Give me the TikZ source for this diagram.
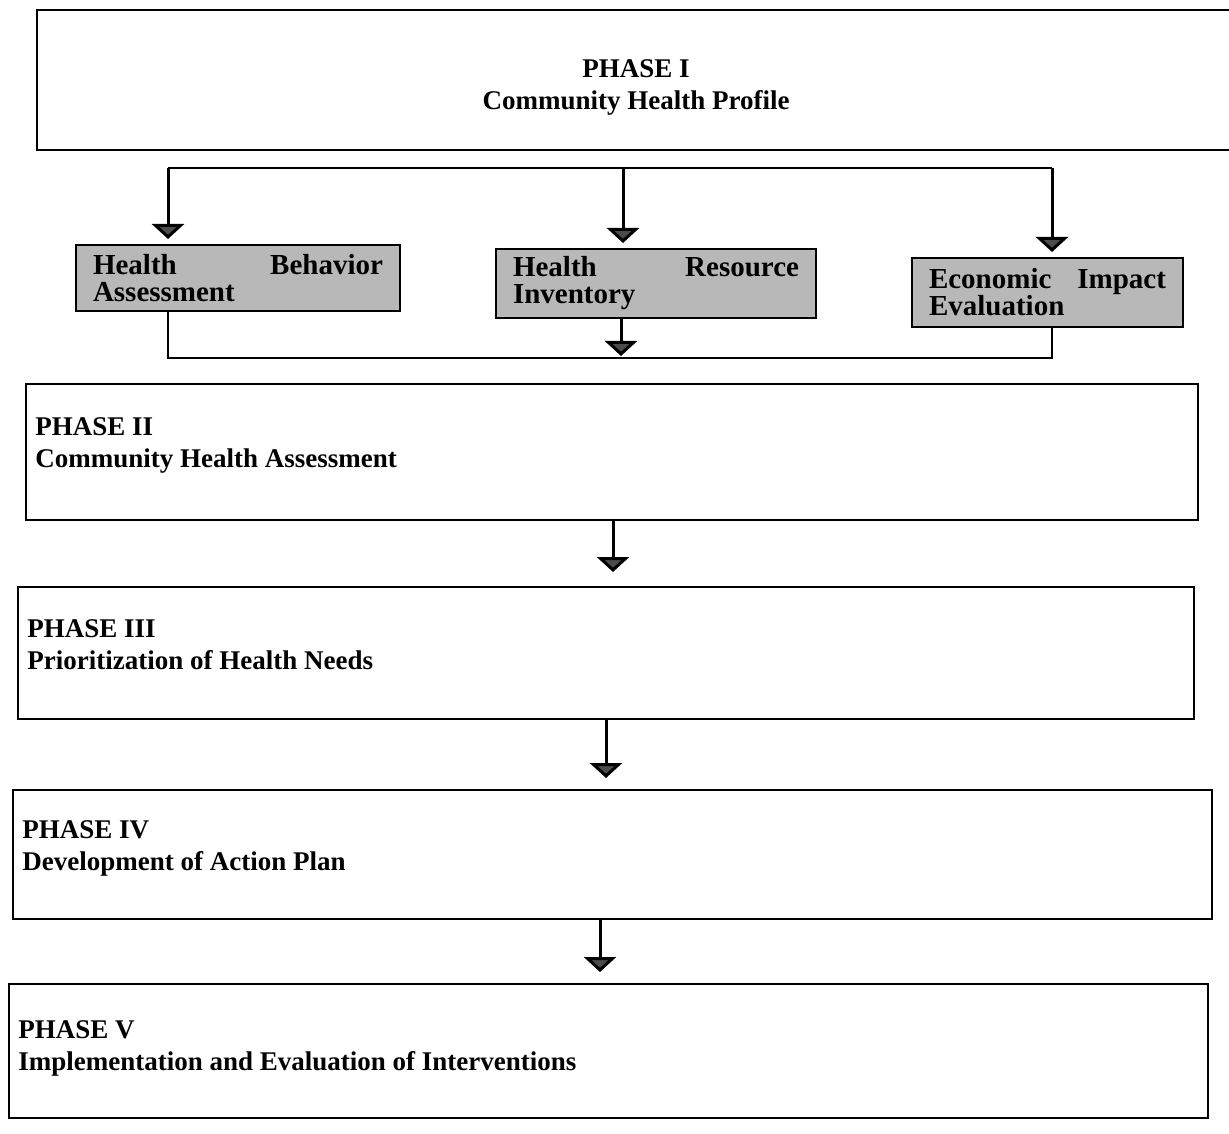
\documentclass[tikz,border=0pt]{standalone}
\usepackage{fontspec}
\setmainfont{Liberation Serif}
\usetikzlibrary{arrows.meta}
\tikzset{
  outline/.style={line width=1.2pt},
  phasebox/.style={draw, line width=1.2pt, rectangle, anchor=north west, inner sep=0pt},
  phasetext/.style={anchor=north west, inner sep=0pt, align=left,
    font=\bfseries\fontsize{13.5}{16}\selectfont},
  shadebox/.style={draw, line width=1pt, fill=black!28, rectangle, inner ysep=0pt,
    inner xsep=8.5pt, align=left, font=\bfseries\fontsize{14.5}{13.5}\selectfont},
  wire/.style={line width=1.2pt},
  flow/.style={line width=1.5pt, -{Triangle[width=16pt,length=7.5pt,fill=black!70]}},
}
\begin{document}
\begin{tikzpicture}[x=0.5pt,y=-0.5pt]
\useasboundingbox (0,0) rectangle (1229,1133);

% Phase I: open on the right
\draw[outline] (1229,10) -- (37,10) -- (37,150) -- (1229,150);
\node[align=center, inner sep=0pt, font=\bfseries\fontsize{13.5}{16}\selectfont]
  (p1) at (636,87) {PHASE I\\Community Health Profile};

% three shaded studies
\node[shadebox, minimum width=162pt, minimum height=33pt, text width=145pt]
  (b1) at (238,278) {Health\hfill Behavior\\Assessment};
\node[shadebox, minimum width=160pt, minimum height=34.5pt, text width=143pt]
  (b2) at (656,283.5) {Health\hfill Resource\\Inventory};
\node[shadebox, minimum width=135.5pt, minimum height=34.5pt, text width=118.5pt]
  (b3) at (1047.5,292.5) {Economic\hfill Impact\\Evaluation};

% phases II--V
\node[phasebox, minimum width=586pt, minimum height=68pt] (p2) at (25,383) {};
\node[phasetext] (p2t) at ([xshift=5pt,yshift=-17pt]p2.north west)
  {PHASE II\\Community Health Assessment};
\node[phasebox, minimum width=588pt, minimum height=66pt] (p3) at (17,586) {};
\node[phasetext] (p3t) at ([xshift=5pt,yshift=-16.5pt]p3.north west)
  {PHASE III\\Prioritization of Health Needs};
\node[phasebox, minimum width=599.5pt, minimum height=64.5pt] (p4) at (12,789) {};
\node[phasetext] (p4t) at ([xshift=5pt,yshift=-15.5pt]p4.north west)
  {PHASE IV\\Development of Action Plan};
\node[phasebox, minimum width=599.5pt, minimum height=67pt] (p5) at (8,983) {};
\node[phasetext] (p5t) at ([xshift=5pt,yshift=-18.5pt]p5.north west)
  {PHASE V\\Implementation and Evaluation of Interventions};

% branching into the three studies
\coordinate (sl) at (168,168);
\coordinate (sm) at (623,168);
\coordinate (sr) at (1052,168);
\draw[wire] (sl) -- (sr);
\draw[flow, shorten >=2.5pt] (sl) -- (sl |- b1.north);
\draw[flow, shorten >=2.5pt] (sm) -- (sm |- b2.north);
\draw[flow, shorten >=2.5pt] (sr) -- (sr |- b3.north);

% merging back
\coordinate (ml) at (168,358);
\coordinate (mm) at (621,358);
\coordinate (mr) at (1052,358);
\draw[wire] (b1.south -| ml) -- (ml) -- (mr) -- (b3.south -| mr);
\draw[flow, shorten >=1pt] (b2.south -| mm) -- (mm);

% phase to phase
\draw[flow, shorten >=7pt] (p2.south -| 613,0) -- (p3.north -| 613,0);
\draw[flow, shorten >=5.5pt] (p3.south -| 606,0) -- (p4.north -| 606,0);
\draw[flow, shorten >=5.5pt] (p4.south -| 600,0) -- (p5.north -| 600,0);
\end{tikzpicture}
\end{document}
